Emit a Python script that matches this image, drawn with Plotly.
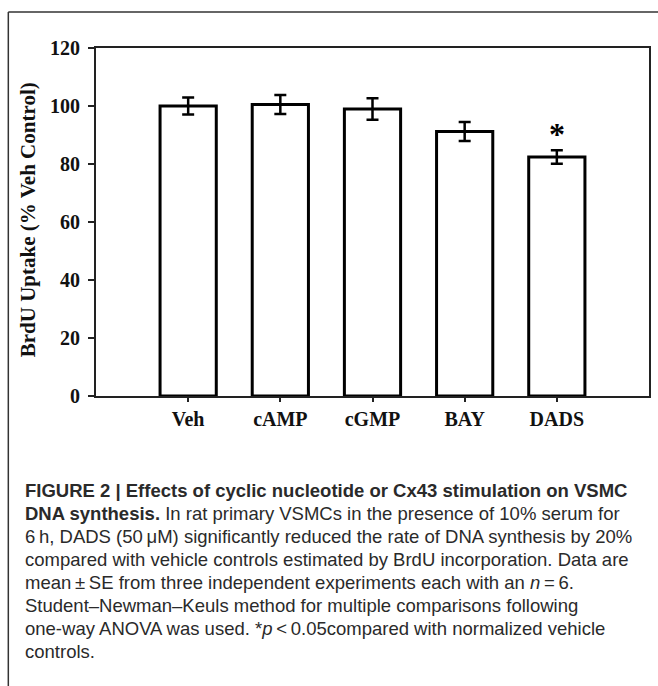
import plotly.graph_objects as go

categories = ["Veh", "cAMP", "cGMP", "BAY", "DADS"]
means = [100.0, 100.5, 99.0, 91.2, 82.4]
errors = [2.9, 3.3, 3.7, 3.3, 2.3]
significant = [False, False, False, False, True]
y_ticks = [0, 20, 40, 60, 80, 100, 120]
y_title = "BrdU Uptake (% Veh Control)"
caption_lines = [
    "<b>FIGURE 2 | Effects of cyclic nucleotide or Cx43 stimulation on VSMC</b>",
    "<b>DNA synthesis.</b> In rat primary VSMCs in the presence of 10% serum for",
    "6\u2009h, DADS (50\u2009\u03bcM) significantly reduced the rate of DNA synthesis by 20%",
    "compared with vehicle controls estimated by BrdU incorporation. Data are",
    "mean\u2009\u00b1\u2009SE from three independent experiments each with an <i>n</i>\u2009=\u20096.",
    "Student\u2013Newman\u2013Keuls method for multiple comparisons following",
    "one-way ANOVA was used. *<i>p</i>\u2009&lt;\u20090.05compared with normalized vehicle",
    "controls.",
]

W, H = 658, 686
X0, X1, Y0, Y1 = 96, 651, 48, 396


def px2x(px):
    return (px - X0) / (X1 - X0)


def py2y(py):
    return (Y1 - py) / (Y1 - Y0)


serif = "Liberation Serif"
sans = "Liberation Sans"

fig = go.Figure()
fig.add_trace(go.Bar(
    x=categories, y=means, width=0.61,
    marker=dict(color="white", line=dict(color="black", width=3)),
    error_y=dict(type="data", array=errors, visible=True, color="black",
                 thickness=2.5, width=6),
    showlegend=False,
))

for c, m, e, s in zip(categories, means, errors, significant):
    if s:
        fig.add_annotation(x=c, y=m + e, text="*", showarrow=False,
                           yanchor="bottom", yshift=-4,
                           font=dict(family=serif, size=32, color="black", weight="bold"))

fig.add_annotation(xref="paper", yref="paper", x=px2x(28), y=py2y(220),
                   text=y_title, textangle=-90, showarrow=False,
                   xanchor="center", yanchor="middle",
                   font=dict(family=serif, size=21, color="#111", weight="bold"))

line_y = [490, 513, 536, 559, 582, 605, 628, 651]
for txt, py in zip(caption_lines, line_y):
    fig.add_annotation(xref="paper", yref="paper", x=px2x(23), y=py2y(py),
                       text=txt, showarrow=False, xanchor="left", yanchor="middle",
                       align="left", font=dict(family=sans, size=18.5, color="#2a2a2a"))

# outer frame (top and left lines)
fig.add_shape(type="line", xref="paper", yref="paper",
              x0=px2x(8), x1=px2x(W + 5), y0=py2y(12), y1=py2y(12),
              line=dict(color="#333", width=1.5))
fig.add_shape(type="line", xref="paper", yref="paper",
              x0=px2x(8), x1=px2x(8), y0=py2y(12), y1=py2y(H + 5),
              line=dict(color="#333", width=1.5))

fig.update_layout(
    width=W, height=H,
    margin=dict(l=X0, r=W - X1, t=Y0, b=H - Y1),
    paper_bgcolor="white", plot_bgcolor="white",
    bargap=0.4,
)
fig.update_xaxes(range=[-1, 5], showline=True, linecolor="#222", linewidth=2,
                 mirror=True, ticks="outside", ticklen=4, tickwidth=2,
                 tickcolor="#222", showgrid=False,
                 tickfont=dict(family=serif, size=20, color="#111", weight="bold"))
fig.update_yaxes(range=[0, 120], tickvals=y_ticks, showline=True, linecolor="#222",
                 linewidth=2, mirror=True, ticks="outside", ticklen=6, tickwidth=2,
                 tickcolor="#222", showgrid=False, zeroline=False,
                 ticklabelstandoff=4,
                 tickfont=dict(family=serif, size=20, color="#111", weight="bold"))

fig.write_html("out.html")
